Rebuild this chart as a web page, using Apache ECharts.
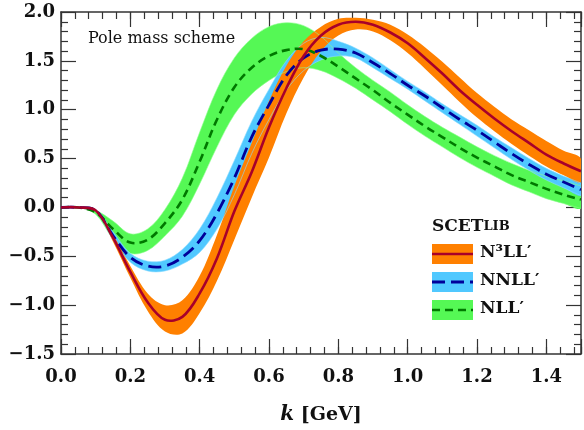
<!DOCTYPE html>
<html>
<head>
<meta charset="utf-8">
<script src="https://cdn.jsdelivr.net/npm/echarts@6/dist/echarts.min.js"></script>
<style>
  html, body { margin: 0; padding: 0; background: #fff; }
  #chart { width: 584px; height: 430px; }
</style>
</head>
<body>
<div id="chart"></div>
<script>
// Soft function vs. k, three resummation orders (central value + scale band)
const K = [0.00, 0.05, 0.10, 0.15, 0.20, 0.25, 0.30, 0.35, 0.40, 0.45,
           0.50, 0.55, 0.60, 0.65, 0.70, 0.75, 0.80, 0.85, 0.90, 0.95,
           1.00, 1.05, 1.10, 1.15, 1.20, 1.25, 1.30, 1.35, 1.40, 1.45, 1.50];

// N3LL'
const n3llMid = [0, 0, -0.03, -0.31, -0.66, -0.97, -1.15, -1.12, -0.88, -0.52,
                 -0.04, 0.36, 0.82, 1.22, 1.55, 1.76, 1.87, 1.90, 1.87, 1.79,
                 1.68, 1.53, 1.37, 1.20, 1.05, 0.91, 0.78, 0.66, 0.54, 0.45, 0.37];
const n3llHi  = [0, 0, -0.02, -0.28, -0.60, -0.88, -1.00, -0.95, -0.70, -0.28,
                 0.22, 0.66, 1.09, 1.45, 1.70, 1.85, 1.93, 1.94, 1.92, 1.87,
                 1.77, 1.64, 1.49, 1.33, 1.17, 1.03, 0.90, 0.79, 0.68, 0.58, 0.50];
const n3llLo  = [0, 0, -0.04, -0.35, -0.72, -1.06, -1.27, -1.29, -1.08, -0.75,
                 -0.33, 0.10, 0.51, 0.96, 1.33, 1.60, 1.76, 1.82, 1.80, 1.71,
                 1.58, 1.42, 1.25, 1.08, 0.92, 0.78, 0.65, 0.53, 0.42, 0.33, 0.26];

// NNLL'
const nnllMid = [0, 0, -0.03, -0.29, -0.51, -0.60, -0.60, -0.51, -0.34, -0.06,
                 0.30, 0.72, 1.05, 1.35, 1.53, 1.61, 1.62, 1.58, 1.48, 1.37,
                 1.25, 1.14, 1.02, 0.90, 0.79, 0.67, 0.55, 0.44, 0.34, 0.26, 0.18];
const nnllHi  = [0, 0, -0.02, -0.25, -0.47, -0.55, -0.54, -0.43, -0.22, 0.10,
                 0.48, 0.88, 1.21, 1.50, 1.68, 1.74, 1.70, 1.63, 1.53, 1.41,
                 1.29, 1.18, 1.06, 0.95, 0.84, 0.72, 0.61, 0.50, 0.40, 0.32, 0.25];
const nnllLo  = [0, 0, -0.04, -0.33, -0.56, -0.65, -0.65, -0.58, -0.46, -0.22,
                 0.13, 0.55, 0.90, 1.20, 1.40, 1.51, 1.55, 1.53, 1.43, 1.32,
                 1.21, 1.09, 0.97, 0.85, 0.73, 0.61, 0.49, 0.38, 0.28, 0.20, 0.12];

// NLL'
const nllMid  = [0, 0, -0.05, -0.22, -0.36, -0.33, -0.16, 0.08, 0.47, 0.90,
                 1.23, 1.43, 1.55, 1.61, 1.62, 1.55, 1.44, 1.32, 1.20, 1.07,
                 0.95, 0.83, 0.72, 0.61, 0.51, 0.42, 0.33, 0.26, 0.19, 0.13, 0.08];
const nllHi   = [0, 0, -0.03, -0.14, -0.27, -0.22, -0.02, 0.30, 0.77, 1.21,
                 1.53, 1.73, 1.85, 1.89, 1.86, 1.75, 1.58, 1.43, 1.30, 1.18,
                 1.05, 0.93, 0.82, 0.72, 0.62, 0.53, 0.45, 0.38, 0.32, 0.27, 0.22];
const nllLo   = [0, 0, -0.07, -0.32, -0.47, -0.44, -0.29, -0.09, 0.24, 0.62,
                 0.95, 1.16, 1.30, 1.39, 1.43, 1.40, 1.32, 1.22, 1.10, 0.98,
                 0.85, 0.73, 0.62, 0.51, 0.41, 0.32, 0.23, 0.16, 0.09, 0.04, -0.01];

const X_MIN = 0, X_MAX = 1.5, X_STEP = 0.2, X_MINOR = 0.04;
const Y_MIN = -1.5, Y_MAX = 2.0, Y_STEP = 0.5;

const LEGEND_TITLE = 'SCET';
const LEGEND_TITLE_SC = 'LIB';
const LABELS = ['N\u00b3LL\u2032', 'NNLL\u2032', 'NLL\u2032'];
const NOTE = 'Pole mass scheme';

const C = {
  orange: '#ff8000', red: '#a8002a',
  sky: '#50c8ff', navy: '#00009a',
  lime: '#55f855', green: '#007800',
  axis: '#333333'
};
const SERIF = '"DejaVu Serif", serif';
const SMOOTH = 0.35;

const pairs = arr => K.map((k, i) => [k, arr[i]]);

// Filled uncertainty band between lo and hi, drawn as one closed shape
function band(lo, hi, color) {
  return {
    type: 'custom', silent: true, z: 2, clip: true,
    data: K.map((k, i) => [k, lo[i], hi[i]]),
    encode: { x: 0, y: [1, 2] },
    renderItem: function (params, api) {
      if (params.dataIndex !== 0) return null;
      const top = K.map((k, i) => api.coord([k, hi[i]]));
      const bot = K.map((k, i) => api.coord([k, lo[i]]));
      return { type: 'polygon', shape: { points: top.concat(bot.slice().reverse()), smooth: SMOOTH },
               style: { fill: color } };
    }
  };
}
// Thin outline of a band's upper and lower limits
function bandEdges(lo, hi, edgeColor) {
  return {
    type: 'custom', silent: true, z: 3, clip: true,
    data: K.map((k, i) => [k, lo[i], hi[i]]),
    encode: { x: 0, y: [1, 2] },
    renderItem: function (params, api) {
      if (params.dataIndex !== 0) return null;
      const top = K.map((k, i) => api.coord([k, hi[i]]));
      const bot = K.map((k, i) => api.coord([k, lo[i]]));
      const st = { stroke: edgeColor, lineWidth: 0.8, opacity: 0.75, fill: null };
      return { type: 'group', children: [
        { type: 'polyline', shape: { points: top, smooth: SMOOTH }, style: st },
        { type: 'polyline', shape: { points: bot, smooth: SMOOTH }, style: st }
      ] };
    }
  };
}
// Central-value curve
function curve(arr, color, width, dash) {
  return {
    type: 'custom', silent: true, z: 4, clip: true,
    data: pairs(arr), encode: { x: 0, y: 1 },
    renderItem: function (params, api) {
      if (params.dataIndex !== 0) return null;
      const pts = K.map((k, i) => api.coord([k, arr[i]]));
      return { type: 'polyline', shape: { points: pts, smooth: SMOOTH },
        style: { stroke: color, lineWidth: width, lineDash: dash || null, fill: null, lineCap: 'butt' } };
    }
  };
}

const fmtY = v => (v < 0 ? '\u2212' : '') + Math.abs(v).toFixed(1);
const fmtX = v => (Math.abs(v / X_STEP - Math.round(v / X_STEP)) < 1e-6) ? v.toFixed(1) : '';

const lineAx = { show: true, onZero: false, lineStyle: { color: C.axis, width: 1.5 } };
const noLine = { show: false, onZero: false };
const majorTick = { show: true, inside: true, length: 15, lineStyle: { color: C.axis, width: 1.2 } };
const minorTickAx = { show: true, inside: true, length: 7, lineStyle: { color: C.axis, width: 1.2 } };
const labelStyle = { fontFamily: SERIF, fontWeight: 'bold', fontSize: 18, color: '#111' };
const yMinor = { show: true, splitNumber: 5, length: 7, lineStyle: { color: C.axis, width: 1.2 } };

const chart = echarts.init(document.getElementById('chart'), null, { renderer: 'canvas' });
chart.setOption({
  animation: false,
  backgroundColor: '#ffffff',
  grid: { left: 61, right: 1, top: 12, bottom: 71, containLabel: false },
  xAxis: [
    { type: 'value', position: 'bottom', min: X_MIN, max: X_MAX, interval: X_STEP,
      axisLine: lineAx, axisTick: majorTick, splitLine: { show: false },
      axisLabel: Object.assign({ margin: 14, formatter: fmtX }, labelStyle),
      name: '{k|k} [GeV]', nameLocation: 'middle', nameGap: 51,
      nameTextStyle: { fontFamily: SERIF, fontWeight: 'bold', fontSize: 19, color: '#111',
        rich: { k: { fontFamily: SERIF, fontWeight: 'bold', fontStyle: 'italic', fontSize: 20, color: '#111' } } } },
    { type: 'value', position: 'bottom', min: X_MIN, max: X_MAX, interval: X_MINOR,
      axisLine: noLine, axisTick: minorTickAx, axisLabel: { show: false }, splitLine: { show: false } },
    { type: 'value', position: 'top', min: X_MIN, max: X_MAX, interval: X_STEP,
      axisLine: lineAx, axisTick: majorTick, axisLabel: { show: false }, splitLine: { show: false } },
    { type: 'value', position: 'top', min: X_MIN, max: X_MAX, interval: X_MINOR,
      axisLine: noLine, axisTick: minorTickAx, axisLabel: { show: false }, splitLine: { show: false } }
  ],
  yAxis: [
    { type: 'value', position: 'left', min: Y_MIN, max: Y_MAX, interval: Y_STEP,
      axisLine: lineAx, axisTick: majorTick, minorTick: yMinor,
      splitLine: { show: false }, minorSplitLine: { show: false },
      axisLabel: Object.assign({ margin: 6, formatter: fmtY }, labelStyle) },
    { type: 'value', position: 'right', min: Y_MIN, max: Y_MAX, interval: Y_STEP,
      axisLine: lineAx, axisTick: majorTick, minorTick: yMinor,
      splitLine: { show: false }, minorSplitLine: { show: false },
      axisLabel: { show: false } }
  ],
  series: [
    band(nllLo, nllHi, C.lime),
    band(nnllLo, nnllHi, C.sky),
    band(n3llLo, n3llHi, C.orange),
    bandEdges(nllLo, nllHi, '#8aff8a'),
    bandEdges(nnllLo, nnllHi, '#8adcff'),
    curve(nllMid, C.green, 2.6, [8, 5]),
    curve(nnllMid, C.navy, 2.8, [13, 6]),
    curve(n3llMid, C.red, 2.6)
  ],
  graphic: [
    { type: 'text', left: 88, top: 31,
      style: { text: NOTE, font: '16px ' + SERIF, fill: '#111' } },
    { type: 'text', left: 432, top: 218,
      style: { text: '{a|' + LEGEND_TITLE + '}{b|' + LEGEND_TITLE_SC + '}',
        rich: { a: { font: 'bold 17px ' + SERIF, fill: '#111' }, b: { font: 'bold 13px ' + SERIF, fill: '#111' } } } },
    { type: 'rect', shape: { x: 432, y: 244, width: 41, height: 20 }, style: { fill: C.orange } },
    { type: 'line', shape: { x1: 432, y1: 254, x2: 473, y2: 254 }, style: { stroke: C.red, lineWidth: 2.6 } },
    { type: 'rect', shape: { x: 432, y: 272, width: 41, height: 20 }, style: { fill: C.sky } },
    { type: 'line', shape: { x1: 432, y1: 282, x2: 473, y2: 282 },
      style: { stroke: C.navy, lineWidth: 2.8, lineDash: [13, 6] } },
    { type: 'rect', shape: { x: 432, y: 300, width: 41, height: 20 }, style: { fill: C.lime } },
    { type: 'line', shape: { x1: 432, y1: 310, x2: 473, y2: 310 },
      style: { stroke: C.green, lineWidth: 2.6, lineDash: [8, 5] } },
    { type: 'text', left: 480, top: 244, style: { text: LABELS[0], font: 'bold 17px ' + SERIF, fill: '#111' } },
    { type: 'text', left: 480, top: 272, style: { text: LABELS[1], font: 'bold 17px ' + SERIF, fill: '#111' } },
    { type: 'text', left: 480, top: 300, style: { text: LABELS[2], font: 'bold 17px ' + SERIF, fill: '#111' } }
  ]
});
</script>
</body>
</html>
